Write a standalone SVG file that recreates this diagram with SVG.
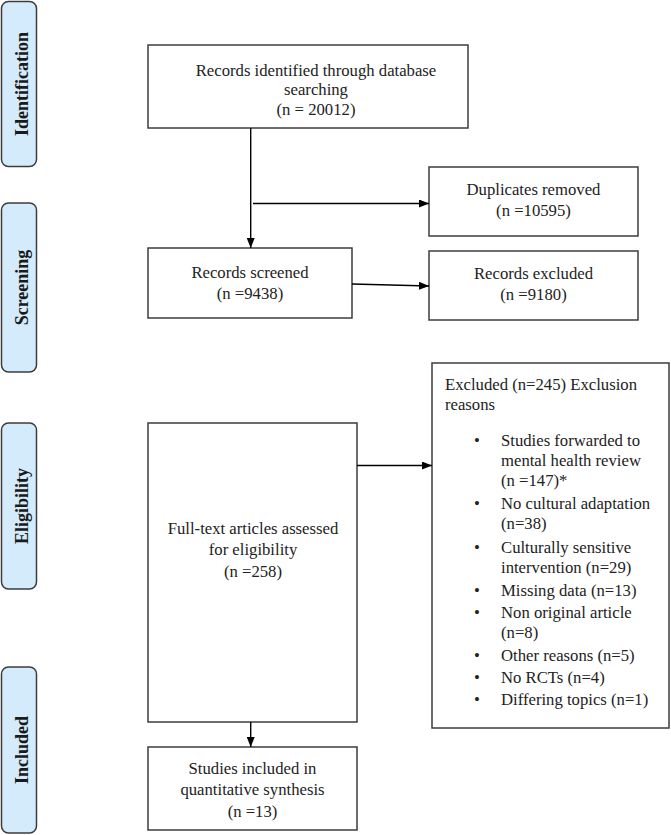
<svg xmlns="http://www.w3.org/2000/svg" width="671" height="835" viewBox="0 0 671 835">
<style>
.tab{fill:#d3ebfb;stroke:#3c3c3c;stroke-width:1.5}
.box{fill:#ffffff;stroke:#3c3c3c;stroke-width:1.5}
.tl{font-family:"Liberation Serif","Times New Roman",serif;font-weight:bold;font-size:18px;fill:#1a1a1a;text-anchor:middle}
.t{font-family:"Liberation Serif","Times New Roman",serif;font-size:16.7px;fill:#222}
.c{text-anchor:middle}
.ln{stroke:#000;stroke-width:1.4;fill:none}
</style>
<defs>
<marker id="ah" viewBox="0 0 10 8" refX="10" refY="4" markerWidth="10" markerHeight="8" markerUnits="userSpaceOnUse" orient="auto">
<path d="M0,0 L10,4 L0,8 Z" fill="#000"/>
</marker>
</defs>
<rect width="671" height="835" fill="#fff"/>

<g id="tab-identification">
<rect class="tab" x="1.5" y="1.5" width="35" height="165" rx="7"/>
<text class="tl" x="28" y="84" transform="rotate(-90 28 84)">Identification</text>
</g>
<g id="tab-screening">
<rect class="tab" x="1.5" y="203" width="35" height="169" rx="7"/>
<text class="tl" x="28" y="287.5" transform="rotate(-90 28 287.5)">Screening</text>
</g>
<g id="tab-eligibility">
<rect class="tab" x="1.5" y="423" width="35" height="166" rx="7"/>
<text class="tl" x="28" y="506" transform="rotate(-90 28 506)">Eligibility</text>
</g>
<g id="tab-included">
<rect class="tab" x="1.5" y="667" width="35" height="166" rx="7"/>
<text class="tl" x="28" y="750" transform="rotate(-90 28 750)">Included</text>
</g>

<g id="identified">
<rect class="box" x="148" y="45" width="320" height="83"/>
<text class="t c" x="316" y="75.5">Records identified through database</text>
<text class="t c" x="316" y="95">searching</text>
<text class="t c" x="316" y="115">(n = 20012)</text>
</g>
<g id="duplicates">
<rect class="box" x="429" y="167" width="209" height="69"/>
<text class="t c" x="533.5" y="195">Duplicates removed</text>
<text class="t c" x="533.5" y="215.5">(n =10595)</text>
</g>
<g id="screened">
<rect class="box" x="148" y="248" width="204" height="70"/>
<text class="t c" x="250" y="277.5">Records screened</text>
<text class="t c" x="250" y="298.5">(n =9438)</text>
</g>
<g id="records-excluded">
<rect class="box" x="429" y="251" width="209" height="69"/>
<text class="t c" x="533.5" y="278.5">Records excluded</text>
<text class="t c" x="533.5" y="299.5">(n =9180)</text>
</g>
<g id="fulltext">
<rect class="box" x="148" y="423" width="209" height="299"/>
<text class="t c" x="253" y="533.5">Full-text articles assessed</text>
<text class="t c" x="253" y="555">for eligibility</text>
<text class="t c" x="253" y="576.5">(n =258)</text>
</g>
<g id="excluded-reasons">
<rect class="box" x="432" y="363" width="237" height="365"/>
<text class="t" x="445" y="390">Excluded (n=245) Exclusion</text>
<text class="t" x="445" y="410">reasons</text>
<g class="t">
<text x="477" y="446" class="c">•</text>
<text x="501" y="446">Studies forwarded to</text>
<text x="501" y="466">mental health review</text>
<text x="501" y="486">(n =147)*</text>
<text x="477" y="508.5" class="c">•</text>
<text x="501" y="508.5">No cultural adaptation</text>
<text x="501" y="528.5">(n=38)</text>
<text x="477" y="553" class="c">•</text>
<text x="501" y="553">Culturally sensitive</text>
<text x="501" y="573">intervention (n=29)</text>
<text x="477" y="596" class="c">•</text>
<text x="501" y="596">Missing data (n=13)</text>
<text x="477" y="617.5" class="c">•</text>
<text x="501" y="617.5">Non original article</text>
<text x="501" y="637.5">(n=8)</text>
<text x="477" y="660.5" class="c">•</text>
<text x="501" y="660.5">Other reasons (n=5)</text>
<text x="477" y="682.5" class="c">•</text>
<text x="501" y="682.5">No RCTs (n=4)</text>
<text x="477" y="705" class="c">•</text>
<text x="501" y="705">Differing topics (n=1)</text>
</g>
</g>
<g id="included">
<rect class="box" x="148" y="747" width="209" height="83"/>
<text class="t c" x="252.5" y="774">Studies included in</text>
<text class="t c" x="252.5" y="795">quantitative synthesis</text>
<text class="t c" x="252.5" y="816.5">(n =13)</text>
</g>

<g id="connectors">
<line class="ln" x1="250.7" y1="128" x2="250.7" y2="248" marker-end="url(#ah)"/>
<line class="ln" x1="253" y1="203.5" x2="429" y2="203.5" marker-end="url(#ah)"/>
<line class="ln" x1="352" y1="284" x2="429" y2="286" marker-end="url(#ah)"/>
<line class="ln" x1="357" y1="465.5" x2="432" y2="465.5" marker-end="url(#ah)"/>
<line class="ln" x1="250.7" y1="722" x2="250.7" y2="747" marker-end="url(#ah)"/>
</g>
</svg>
